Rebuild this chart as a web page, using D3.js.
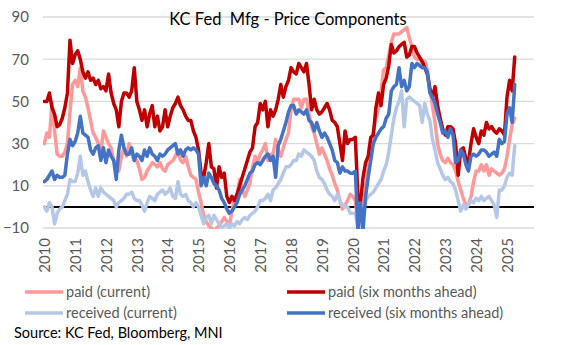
<!DOCTYPE html>
<html><head><meta charset="utf-8">
<script src="https://cdn.jsdelivr.net/npm/d3@7"></script>
<style>body{margin:0;background:#fff;} svg{display:block;}</style>
</head><body>
<svg id="c" width="566" height="345"></svg>
<script>
const title = "KC Fed  Mfg - Price Components";
const years = [2010,2011,2012,2013,2014,2015,2016,2017,2018,2019,2020,2021,2022,2023,2024,2025];
const yTicks = [-10,10,30,50,70,90];
const seriesNames = ["paid (current)","paid (six months ahead)","received (current)","received (six months ahead)"];
const seriesColors = ["#FF9999","#C00000","#B4C7E7","#4472C4"];
const source = "Source: KC Fed, Bloomberg, MNI";

// monthly values Jan 2010 .. Apr 2025
const paidCurrent = [
30,35,33,49,36,25,24,24,26,30,45,58,
60,57,66,55,52,47,41,35,33,30,26,36,
33,30,28,22,20,17,24,28,24,30,25,22,
22,18,13,14,17,19,21,20,19,21,18,17,
20,21,22,24,27,22,21,24,19,15,14,13,
7,2,-4,-7,-9,-10,-12,-10,-9,-7,-5,-7,
-9,-2,4,6,13,8,5,8,11,19,24,21,
25,27,30,22,25,25,32,27,24,28,32,35,
46,51,51,51,47,51,51,44,38,35,30,25,
28,25,22,18,15,11,8,3,-1,1,3,6,
5,3,-8,-10,-3,10,18,26,36,42,47,55,
65,66,72,78,82,82,82,83,84,85,80,76,
71,70,70,68,69,65,56,48,40,30,25,22,
21,23,21,20,17,12,8,4,1,1,5,12,
17,17,20,17,20,15,18,17,16,15,16,18,
24,32,39,42];
const paidSix = [
50,50,54,47,44,38,39,42,47,54,79,68,
72,74,70,64,61,64,60,61,58,60,56,57,
55,63,54,49,46,38,50,54,54,52,55,66,
50,46,41,46,38,44,48,38,43,36,38,46,
38,43,47,49,52,48,46,43,41,41,36,33,
27,16,14,21,30,19,18,9,19,14,16,5,
2,5,3,6,10,14,18,22,26,28,38,40,
49,46,50,38,46,43,46,51,58,52,57,60,
66,64,63,68,66,64,68,58,46,51,46,44,
45,47,49,46,41,40,38,30,22,36,30,32,
32,33,5,2,14,21,24,33,34,47,54,48,
58,61,67,77,73,74,76,77,78,71,72,76,
76,73,71,69,66,63,56,52,57,48,42,37,
34,38,38,37,30,15,27,28,23,21,30,37,
33,30,36,34,40,37,38,36,35,37,36,34,
52,60,55,71];
const receivedCurrent = [
0,-2,2,0,-8,-3,-1,0,3,6,13,12,
12,16,24,15,17,12,8,5,9,5,9,7,
6,5,4,3,0,2,3,4,6,6,7,4,
3,3,1,-2,2,5,4,3,6,7,8,6,
7,9,5,4,12,6,5,6,3,2,0,2,
0,-4,-8,-5,-4,-8,-4,-6,-8,-10,-9,-8,
-10,-8,-9,-7,-8,-6,-5,-6,-4,-3,-2,0,
3,3,4,6,3,8,9,11,13,16,19,19,
20,22,22,25,24,27,26,25,24,22,17,14,
13,11,8,6,5,3,6,3,1,0,0,-3,
-3,-3,-10,-9,-2,3,5,6,7,9,11,13,
17,20,26,34,42,47,50,55,38,51,52,51,
50,49,48,40,49,44,41,32,27,21,18,15,
13,14,12,11,8,3,-2,1,-1,1,3,2,
4,3,5,3,4,5,3,1,-5,8,8,10,
14,16,15,29];
const receivedSix = [
12,13,15,17,13,15,14,14,15,25,32,29,
31,35,43,35,34,33,27,25,28,29,22,28,
21,27,24,22,13,27,34,28,25,25,28,22,
25,24,22,27,24,28,25,24,22,25,24,25,
27,28,29,30,25,27,24,27,28,27,28,27,
25,10,14,10,16,14,11,10,8,4,2,-1,
-3,-2,0,2,6,8,10,13,16,17,20,21,
20,22,24,25,22,24,14,29,32,36,40,45,
48,48,44,46,45,44,46,41,40,36,40,36,
33,35,33,30,27,22,21,16,19,17,17,16,
16,17,-11,2,-11,5,14,22,30,33,35,37,
38,42,44,55,57,58,66,57,60,55,57,68,
66,68,67,66,66,64,54,52,49,44,40,35,
36,33,37,34,21,22,27,25,20,17,24,25,
24,25,27,27,26,24,25,26,24,32,30,31,
44,47,40,58];

const allSeries = [paidCurrent, paidSix, receivedCurrent, receivedSix];

const svg = d3.select("#c");
const FONT = "Lato, 'Open Sans', sans-serif";
const L = 43, R = 534, T = 17, B = 228;

const x = d3.scaleLinear().domain([-0.5, 190.5]).range([L, R]);
const y = d3.scaleLinear().domain([-10, 90]).range([B, T]);

svg.append("rect").attr("width",566).attr("height",345).attr("fill","#fff");

// gridlines
svg.append("g").selectAll("line").data(yTicks).join("line")
  .attr("x1", L).attr("x2", R)
  .attr("y1", d => y(d)).attr("y2", d => y(d))
  .attr("stroke", "#D9D9D9").attr("stroke-width", 1.3);

// y axis labels
const yAxis = d3.axisLeft(y).tickValues(yTicks).tickSize(0).tickPadding(14);
const gy = svg.append("g").attr("transform", `translate(${L},0)`).call(yAxis);
gy.select(".domain").remove();
gy.selectAll("text").attr("font-family", FONT).attr("font-size", 15).attr("fill", "#595959");

// zero line
svg.append("line").attr("x1", L).attr("x2", R).attr("y1", y(0)).attr("y2", y(0))
  .attr("stroke", "#000").attr("stroke-width", 2);

// x axis labels (January of each year)
const xAxis = d3.axisBottom(x).tickValues(years.map((yr, i) => i * 12))
  .tickFormat((d, i) => years[i]).tickSize(0);
const gx = svg.append("g").attr("transform", `translate(0,${B})`).call(xAxis);
gx.select(".domain").remove();
gx.selectAll("text")
  .attr("font-family", FONT).attr("font-size", 15).attr("fill", "#595959")
  .attr("transform", "rotate(-90)")
  .attr("text-anchor", "end")
  .attr("x", -10).attr("y", 0).attr("dy", "0.35em");

// clip
svg.append("clipPath").attr("id", "clip").append("rect")
  .attr("x", L).attr("y", T - 5).attr("width", R - L + 5).attr("height", B - T + 6);

const line = d3.line().x((d, i) => x(i)).y(d => y(d));
const plot = svg.append("g").attr("clip-path", "url(#clip)");
allSeries.forEach((s, k) => {
  plot.append("path").datum(s).attr("d", line)
    .attr("fill", "none").attr("stroke", seriesColors[k])
    .attr("stroke-width", 3.5).attr("stroke-linejoin", "round").attr("stroke-linecap", "round");
});

// title
svg.append("text").attr("x", 288).attr("y", 25).attr("text-anchor", "middle")
  .attr("font-family", FONT).attr("font-size", 16.5).attr("fill", "#000")
  .attr("xml:space", "preserve").style("white-space", "pre").text(title);

// legend
const legPos = [[25, 292], [287, 292], [25, 313], [287, 313]];
seriesNames.forEach((n, k) => {
  const [lx, ly] = legPos[k];
  svg.append("line").attr("x1", lx).attr("x2", lx + 38).attr("y1", ly).attr("y2", ly)
    .attr("stroke", seriesColors[k]).attr("stroke-width", 3.5);
  svg.append("text").attr("x", lx + 41).attr("y", ly).attr("dy", "0.35em")
    .attr("font-family", FONT).attr("font-size", 14.5).attr("fill", "#595959").text(n);
});

svg.append("text").attr("x", 14).attr("y", 338)
  .attr("font-family", FONT).attr("font-size", 14.5).attr("fill", "#000").text(source);
</script>
</body></html>
